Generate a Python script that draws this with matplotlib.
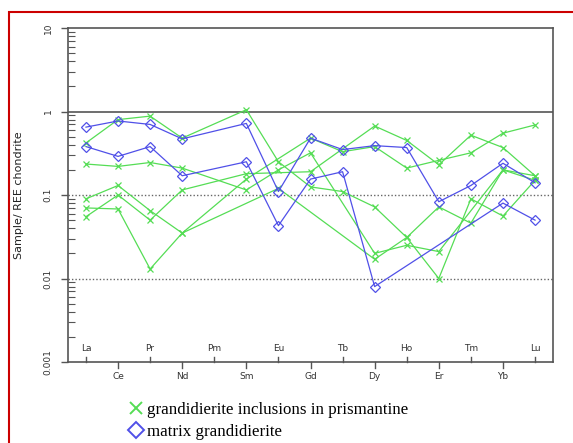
import numpy as np
import matplotlib.pyplot as plt
from matplotlib.lines import Line2D
from matplotlib.patches import Rectangle

nan = np.nan

# REE elements in chondrite-normalised order
elements = ["La", "Ce", "Pr", "Nd", "Pm", "Sm", "Eu", "Gd",
            "Tb", "Dy", "Ho", "Er", "Tm", "Yb", "Lu"]

# grandidierite inclusions in prismantine (green)
incl_1 = [0.42, 0.80, 0.88, 0.48, nan, 1.05, 0.25, 0.125, 0.11, 0.072, 0.031, 0.010, 0.090, 0.056, 0.15]
incl_2 = [0.235, 0.22, 0.245, 0.21, nan, 0.115, 0.20, 0.32, nan, 0.020, 0.025, 0.021, nan, 0.20, 0.17]
incl_3 = [0.09, 0.13, 0.065, 0.035, nan, 0.155, nan, 0.48, 0.33, 0.38, 0.21, 0.26, 0.32, 0.55, 0.69]
incl_4 = [0.055, 0.10, 0.05, 0.115, nan, 0.18, nan, 0.19, nan, 0.67, 0.45, 0.23, 0.52, 0.37, 0.17]
incl_5 = [0.07, 0.068, 0.013, 0.035, nan, nan, 0.12, nan, nan, 0.017, 0.031, 0.072, 0.046, 0.20, 0.15]

# matrix grandidierite (blue)
matrix_1 = [0.65, 0.77, 0.70, 0.47, nan, 0.72, 0.11, 0.48, 0.35, 0.39, 0.37, 0.083, 0.13, 0.24, 0.14]
matrix_2 = [0.38, 0.29, 0.38, 0.17, nan, 0.25, 0.043, 0.155, 0.19, 0.008, nan, nan, nan, 0.08, 0.05]

inclusions = [incl_1, incl_2, incl_3, incl_4, incl_5]
matrix = [matrix_1, matrix_2]

green = "#55dd55"
blue = "#5050e8"
axis_col = "#555555"

fig = plt.figure(figsize=(5.73, 4.43), dpi=100)
fig.patch.set_facecolor("white")
ax = fig.add_axes([68 / 573, 1 - 362 / 443, (553 - 68) / 573, (362 - 28) / 443])

x = np.arange(len(elements))


def draw(series, color, marker, ms, mew):
    y = np.array(series, dtype=float)
    ok = ~np.isnan(y)
    ax.plot(x[ok], y[ok], color=color, lw=0.9, marker=marker, ms=ms,
            mfc="none", mec=color, mew=mew, zorder=3)


for s in inclusions:
    draw(s, green, "x", 5, 0.9)
for s in matrix:
    draw(s, blue, "D", 5.5, 0.9)

ax.set_yscale("log")
ax.set_ylim(0.001, 10)
ax.set_xlim(-0.56, 14.56)

# reference lines
ax.axhline(1, color=axis_col, lw=1.2, zorder=2)
for v in (0.1, 0.01):
    ax.axhline(v, color="#666666", lw=1.0, ls=(0, (1, 1.5)), zorder=2)

for sp in ax.spines.values():
    sp.set_color(axis_col)
    sp.set_linewidth(1.2)

# y ticks
ax.set_yticks([0.001, 0.01, 0.1, 1, 10])
ax.set_yticklabels(["0.001", "0.01", "0.1", "1", "10"], rotation=90, va="center",
                   fontsize=6.5, color="#333333")
ax.tick_params(axis="y", which="major", direction="out", length=5, width=1, color=axis_col, pad=6)
ax.tick_params(axis="y", which="minor", direction="in", length=5, width=0.8, color=axis_col)

# x ticks: alternate labels inside (above) and below the axis
ax.set_xticks([])
for i, el in enumerate(elements):
    if i % 2 == 0:
        ax.plot([i, i], [0.001, 0.00115], color=axis_col, lw=1, clip_on=False)
        ax.text(i, 0.00128, el, ha="center", va="bottom", fontsize=6.5, color="#333333")
    else:
        ax.plot([i, i], [0.001, 0.00085], color=axis_col, lw=1, clip_on=False)
        ax.text(i, 0.00075, el, ha="center", va="top", fontsize=6.5, color="#333333")

ax.set_ylabel("Sample/ REE chondrite", fontsize=8, color="#222222", labelpad=14)

# legend below the plot
handles = [
    Line2D([], [], ls="none", marker="x", ms=9, mec=green, mew=1.4),
    Line2D([], [], ls="none", marker="D", ms=8, mfc="none", mec=blue, mew=1.4),
]
labels = ["grandidierite inclusions in prismantine", "matrix grandidierite"]
fig.legend(handles, labels, loc="upper left", bbox_to_anchor=(122 / 573, 1 - 395 / 443),
           frameon=False, handlelength=0.9, handletextpad=0.2, labelspacing=0.35,
           prop={"family": "Liberation Serif", "size": 12.2}, borderaxespad=0)

# red frame around the figure
fig.patches.append(Rectangle((8.5 / 573, -0.05), 1.2, 1 - 12 / 443 + 0.05,
                             transform=fig.transFigure, fill=False,
                             edgecolor="#cc0000", lw=1.5))

fig.savefig("out.png", dpi=100)
